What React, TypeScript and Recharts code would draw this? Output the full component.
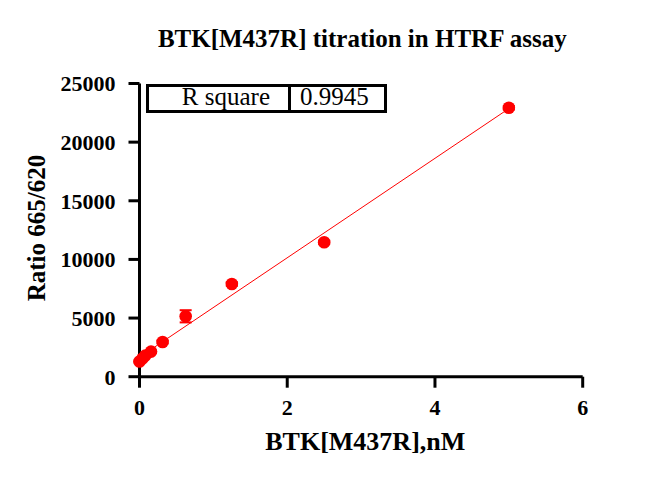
import React from "react";
import {
  ScatterChart,
  Scatter,
  XAxis,
  YAxis,
  ErrorBar,
  ReferenceLine,
} from "recharts";

// BTK[M437R] concentration (nM) vs HTRF ratio 665/620
const concentrations = [0, 0.039, 0.078, 0.156, 0.3125, 0.625, 1.25, 2.5, 5];
const ratios = [1300, 1540, 1800, 2140, 2960, 5150, 7900, 11460, 22930];
const ratioErrors = [80, 80, 90, 100, 120, 520, 150, 140, 150];

// linear fit end points
const fitX = [0, 5];
const fitY = [1660, 22860];
const rSquare = "0.9945";

const xTicks = [0, 2, 4, 6];
const yTicks = [0, 5000, 10000, 15000, 20000, 25000];

const serif = "'Liberation Serif', 'Times New Roman', serif";

const points = concentrations.map((x, i) => ({ x, y: ratios[i], err: ratioErrors[i] }));

const Dot = (p: any) => <circle cx={p.cx} cy={p.cy} r={6.3} fill="#ff0000" />;

export default function App() {
  const tickStyle = { fontSize: 22, fontWeight: "bold", fill: "#000", fontFamily: serif };
  const axisStyle = { stroke: "#000", strokeWidth: 3 };

  return (
    <div style={{ position: "relative", width: 650, height: 471, fontFamily: serif }}>
      <ScatterChart width={650} height={471} margin={{ top: 75.5, right: 75.3, left: 51.5, bottom: 72.3 }}>
        <XAxis
          type="number"
          dataKey="x"
          domain={[0, 6]}
          ticks={xTicks}
          height={30}
          tick={tickStyle}
          tickSize={11}
          tickMargin={12}
          axisLine={axisStyle}
          tickLine={axisStyle}
        />
        <YAxis
          type="number"
          dataKey="y"
          domain={[0, 25000]}
          ticks={yTicks}
          width={80}
          tick={tickStyle}
          tickSize={11}
          tickMargin={13}
          axisLine={axisStyle}
          tickLine={axisStyle}
        />
        <ReferenceLine
          segment={[
            { x: fitX[0], y: fitY[0] },
            { x: fitX[1], y: fitY[1] },
          ]}
          stroke="#ff0000"
          strokeWidth={1}
        />
        <Scatter data={points} shape={Dot} isAnimationActive={false}>
          <ErrorBar dataKey="err" direction="y" width={6} stroke="#ff0000" strokeWidth={2} />
        </Scatter>
      </ScatterChart>

      <div
        style={{
          position: "absolute",
          left: 54.3,
          top: 17.8,
          width: 600,
          textAlign: "center",
          fontSize: 25,
          lineHeight: "25px",
          fontWeight: "bold",
          whiteSpace: "nowrap",
        }}
      >
        BTK[M437R] titration in HTRF assay
      </div>

      <div
        style={{
          position: "absolute",
          left: 157.3,
          top: 420.9,
          width: 400,
          textAlign: "center",
          fontSize: 26,
          lineHeight: "26px",
          fontWeight: "bold",
          whiteSpace: "nowrap",
        }}
      >
        BTK[M437R],nM
      </div>

      <div
        style={{
          position: "absolute",
          left: 28.7 - 150,
          top: 220 - 13,
          width: 300,
          height: 26,
          textAlign: "center",
          fontSize: 25,
          lineHeight: "26px",
          fontWeight: "bold",
          whiteSpace: "nowrap",
          transform: "rotate(-90deg)",
        }}
      >
        Ratio 665/620
      </div>

      <div
        style={{
          position: "absolute",
          left: 138,
          top: 76,
          width: 241.3,
          height: 29.3,
          boxSizing: "border-box",
          border: "3px solid #000",
          background: "#fff",
        }}
      >
        <div style={{ position: "absolute", left: 139.3, top: 0, width: 3, height: "100%", background: "#000" }} />
      </div>
      <span
        style={{
          position: "absolute",
          left: 62,
          top: 76,
          width: 200,
          textAlign: "right",
          fontSize: 25,
          lineHeight: "25px",
          whiteSpace: "nowrap",
        }}
      >
        R square
      </span>
      <span
        style={{
          position: "absolute",
          left: 292,
          top: 76,
          fontSize: 25,
          lineHeight: "25px",
          whiteSpace: "nowrap",
        }}
      >
        {rSquare}
      </span>
    </div>
  );
}
